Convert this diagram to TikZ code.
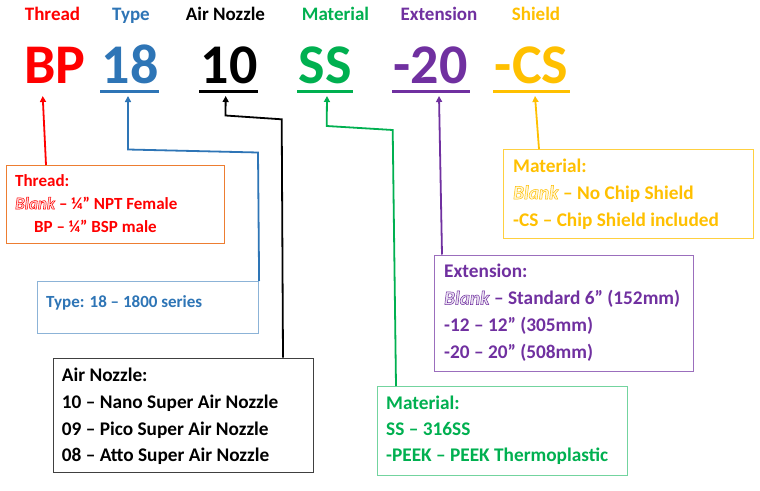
\documentclass[tikz,border=0pt]{standalone}
\usepackage{fontspec}
\setmainfont{Carlito}
\usetikzlibrary{positioning,arrows.meta}
\definecolor{thrred}{HTML}{FF0000}
\definecolor{typeblue}{HTML}{2E75B6}
\definecolor{matgreen}{HTML}{00B050}
\definecolor{extpurple}{HTML}{7030A0}
\definecolor{shdyellow}{HTML}{FFC000}
\definecolor{thrborder}{HTML}{ED7D31}
\definecolor{nozborder}{HTML}{404040}
% outlined italic word: pale fill, stroked in the given rgb
\newcommand{\blankword}[2]{\textcolor{#1!15}{\special{pdf:literal direct #2 RG 2 Tr 0.5 w}\textit{Blank}\special{pdf:literal direct 0 Tr}}}

\begin{document}
\begin{tikzpicture}[x=1pt,y=-1pt,
  hdr/.style={font=\fontsize{19}{21}\selectfont\bfseries,anchor=base,inner sep=0pt},
  code/.style={font=\fontsize{56}{60}\selectfont\bfseries,anchor=base,inner sep=0pt},
  box/.style={draw,line width=1.1pt,anchor=north west,inner sep=0pt},
  txt/.style={font=\fontsize{19.3}{22}\selectfont\bfseries,anchor=base west,inner sep=0pt},
  smalltxt/.style={txt,font=\fontsize{17}{20}\selectfont\bfseries},
  arr/.style={line width=1.8pt,-{Triangle[length=6pt,width=6pt]}},
  uline/.style={line width=3pt}]
\useasboundingbox[fill=white] (0,0) rectangle (760,490);
% header words
\foreach \n/\x/\c/\t in {thr/52.5/thrred/Thread, typ/131/typeblue/Type,
    noz/225.5/black/Air Nozzle, mat/335.5/matgreen/Material,
    ext/439/extpurple/Extension, shd/536/shdyellow/Shield}{
  \node[hdr,text=\c] (h\n) at (\x,20.7) {\t};
}
% part number
\foreach \n/\x/\c/\t in {thr/55/thrred/BP, typ/130/typeblue/18,
    noz/229/black/10, mat/325/matgreen/SS,
    ext/430.5/extpurple/-20, shd/531.5/shdyellow/-CS}{
  \node[code,text=\c] (c\n) at (\x,83) {\t};
}
% underlines
\foreach \a/\b/\c in {100/159/typeblue, 199/258/black, 297/353/matgreen,
    392/470/extpurple, 493/570/shdyellow}{
  \draw[uline,\c] (\a,91) -- (\b,91);
}
% arrow tips
\coordinate (tthr) at (42.7,96);
\coordinate (ttyp) at (128,96);
\coordinate (tnoz) at (225.7,96);
\coordinate (tmat) at (327,96);
\coordinate (text) at (439,96);
\coordinate (tshd) at (535,96);

% boxes
\node[box,draw=thrborder,minimum width=218pt,minimum height=78pt] (bthr) at (5.7,165) {};
\node[box,draw=typeblue!55,minimum width=221pt,minimum height=52pt] (btyp) at (37,281) {};
\node[box,draw=nozborder,minimum width=260pt,minimum height=114pt] (bnoz) at (52.7,357.7) {};
\node[box,draw=matgreen!55,minimum width=250pt,minimum height=89pt] (bmat) at (376.7,386) {};
\node[box,draw=extpurple!70,minimum width=259pt,minimum height=116.5pt] (bext) at (434,254.5) {};
\node[box,draw=shdyellow!75,minimum width=250pt,minimum height=89pt] (bshd) at (503,149) {};

% box texts
\begin{scope}[text=thrred]
\node[smalltxt] (lthr0) at (15,186) {Thread:};
\node[smalltxt] (lthr1) at (15,209) {\blankword{thrred}{1 0 0} – ¼” NPT Female};
\node[smalltxt] (lthr2) at (34,232) {BP – ¼” BSP male};
\end{scope}
\node[smalltxt,text=typeblue] (ltyp0) at (46,307) {Type: 18 – 1800 series};
\foreach \t [count=\i from 0] in {Air Nozzle:, 10 – Nano Super Air Nozzle,
    09 – Pico Super Air Nozzle, 08 – Atto Super Air Nozzle}{
  \node[txt,text=black] (lnoz\i) at (61.7,381.7+26.7*\i) {\t};
}
\foreach \t [count=\i from 0] in {Material:, SS – 316SS,
    -PEEK – PEEK Thermoplastic}{
  \node[txt,text=matgreen] (lmat\i) at (386,409.3+26.3*\i) {\t};
}
\foreach \t [count=\i from 0] in {Extension:, \blankword{extpurple}{0.439 0.188 0.627} – Standard 6” (152mm),
    -12 – 12” (305mm), -20 – 20” (508mm)}{
  \node[txt,text=extpurple] (lext\i) at (444,277.7+26.8*\i) {\t};
}
\foreach \t [count=\i from 0] in {Material:, \blankword{shdyellow}{1 0.753 0} – No Chip Shield,
    -CS – Chip Shield included}{
  \node[txt,text=shdyellow] (lshd\i) at (513,172+27*\i) {\t};
}

% connectors
\draw[arr,thrred] ([xshift=40.3pt]bthr.north west) -- (tthr);
\draw[arr,typeblue] (btyp.north east) -- (258,152.5) -- (128,149.5) -- (ttyp);
\draw[arr,black] ([xshift=230.3pt]bnoz.north west) -- (281.7,119.3) -- (225.5,115.5) -- (tnoz);
\draw[arr,matgreen] ([xshift=19.3pt]bmat.north west) -- (392.7,130) -- (326.7,126) -- (tmat);
\draw[arr,extpurple] ([xshift=8pt]bext.north west) -- (text);
\draw[arr,shdyellow] ([xshift=36pt]bshd.north west) -- (tshd);
\end{tikzpicture}
\end{document}
